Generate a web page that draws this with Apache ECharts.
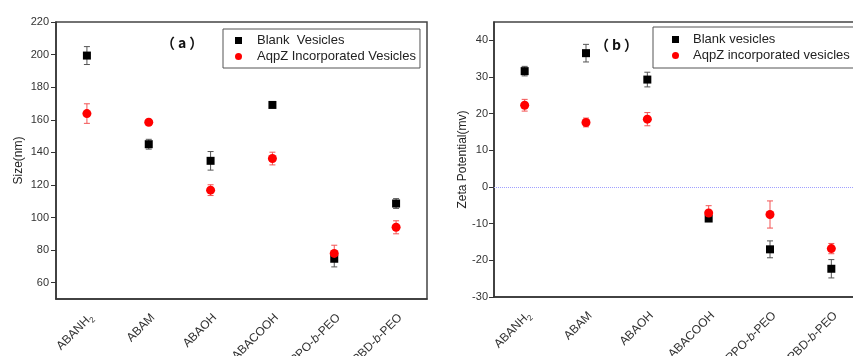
<!DOCTYPE html>
<html>
<head>
<meta charset="utf-8">
<script src="https://cdn.jsdelivr.net/npm/echarts@6/dist/echarts.min.js"></script>
<style>
    html, body { margin: 0; padding: 0; background: #fff; }
    #chart { width: 853px; height: 356px; }
</style>
</head>
<body>
<div id="chart"></div>
<script>
    // categories (same for both panels)
    var categories = ['ABANH2', 'ABAM', 'ABAOH', 'ABACOOH', 'PPO-b-PEO', 'PBD-b-PEO'];

    // (a) size in nm
    var sizeBlank = [199.4, 145.0, 134.8, 169.1, 74.7, 108.6];
    var sizeBlankErr = [5.5, 3.0, 5.7, 1.6, 5.0, 3.0];
    var sizeAqpz = [163.8, 158.5, 116.8, 136.2, 78.0, 94.0];
    var sizeAqpzErr = [6.0, 1.5, 3.3, 3.9, 5.0, 4.0];
    var sizeTicks = [60, 80, 100, 120, 140, 160, 180, 200, 220];

    // (b) zeta potential in mv
    var zetaBlank = [31.6, 36.5, 29.3, -8.6, -17.0, -22.3];
    var zetaBlankErr = [1.3, 2.4, 2.0, 0.7, 2.3, 2.5];
    var zetaAqpz = [22.3, 17.6, 18.5, -7.1, -7.5, -16.8];
    var zetaAqpzErr = [1.6, 1.2, 1.8, 2.0, 3.7, 1.4];
    var zetaTicks = [-30, -20, -10, 0, 10, 20, 30, 40];

    var font = 'Liberation Sans, Arial, sans-serif';

    function errData(vals, errs) {
        return vals.map(function (v, i) {
            return [i, v - errs[i], v + errs[i]];
        });
    }

    // draw vertical bar with small caps
    function errorBar(params, api) {
        var x = api.value(0);
        var lo = api.coord([x, api.value(1)]);
        var hi = api.coord([x, api.value(2)]);
        var w = 3;
        var style = {stroke: api.visual('color'), lineWidth: 1, fill: null};
        return {
            type: 'group',
            children: [
                {type: 'line', shape: {x1: lo[0], y1: lo[1], x2: hi[0], y2: hi[1]}, style: style},
                {type: 'line', shape: {x1: lo[0] - w, y1: lo[1], x2: lo[0] + w, y2: lo[1]}, style: style},
                {type: 'line', shape: {x1: hi[0] - w, y1: hi[1], x2: hi[0] + w, y2: hi[1]}, style: style}
            ]
        };
    }

    function catLabel(v) {
        if (v === 'ABANH2') return '{n|ABANH}{s|2}';
        if (v.indexOf('-b-') > 0) {
            var p = v.split('-b-');
            return '{n|' + p[0] + '-}{i|b}{n|-' + p[1] + '}';
        }
        return '{n|' + v + '}';
    }

    function xAxisOf(gridIndex) {
        return {
            type: 'category',
            gridIndex: gridIndex,
            data: categories,
            axisLine: {onZero: false, lineStyle: {color: '#333', width: 1.5}},
            axisTick: {inside: true, alignWithLabel: true, length: 6, lineStyle: {color: '#333'}},
            axisLabel: {
                rotate: 45,
                margin: 21,
                padding: [0, -6, 0, 0],
                interval: 0,
                formatter: catLabel,
                rich: {
                    n: {fontSize: 12, fontFamily: font, color: '#333'},
                    i: {fontSize: 12, fontFamily: font, color: '#333', fontStyle: 'italic'},
                    s: {fontSize: 8, fontFamily: font, color: '#333', verticalAlign: 'bottom', padding: [8, 0, 0, 0]}
                }
            },
            splitLine: {show: false}
        };
    }

    function panelTitle(letter, x, y) {
        return {
            text: '{p|（}{a|' + letter + '}{p|）}',
            left: x,
            top: y,
            textStyle: {
                rich: {
                    p: {fontSize: 14, fontWeight: 'bold', color: '#111', fontFamily: 'Noto Sans CJK SC'},
                    a: {fontSize: 14, fontWeight: 'bold', color: '#111', fontFamily: 'Noto Sans CJK SC', padding: [0, 3]}
                }
            }
        };
    }

    var zeroLine = {color: '#a0a0ff', type: [1, 1], width: 1, opacity: 1};

    var chart = echarts.init(document.getElementById('chart'));
    chart.setOption({
        backgroundColor: '#fff',
        animation: false,
        title: [panelTitle('a', 156, 31), panelTitle('b', 590, 33)],
        grid: [
            {left: 56, top: 22, width: 371, height: 277, outerBoundsMode: 'none', show: true, borderColor: '#444', borderWidth: 1.5},
            {left: 494, top: 22, width: 368, height: 275, outerBoundsMode: 'none', show: true, borderColor: '#444', borderWidth: 1.5}
        ],
        legend: [
            {
                data: ['Blank  Vesicles', 'AqpZ Incorporated Vesicles'],
                orient: 'vertical',
                left: 223,
                top: 29,
                padding: [4, 4, 4, 12],
                itemGap: 1,
                itemWidth: 7,
                itemHeight: 7,
                borderColor: '#555',
                borderWidth: 1,
                textStyle: {fontSize: 13, fontFamily: font, color: '#222', lineHeight: 15, padding: [0, 0, 0, 10]}
            },
            {
                data: ['Blank vesicles', 'AqpZ incorporated vesicles'],
                orient: 'vertical',
                left: 653,
                top: 27,
                padding: [5, 10, 5, 19],
                itemGap: 1,
                itemWidth: 7,
                itemHeight: 7,
                borderColor: '#555',
                borderWidth: 1,
                textStyle: {fontSize: 13, fontFamily: font, color: '#222', lineHeight: 15, padding: [0, 0, 0, 9]}
            }
        ],
        xAxis: [xAxisOf(0), xAxisOf(1)],
        yAxis: [
            {
                type: 'value',
                gridIndex: 0,
                min: 50,
                max: 220,
                name: 'Size(nm)',
                nameLocation: 'middle',
                nameGap: 31,
                nameTextStyle: {fontSize: 12, fontFamily: font, color: '#222'},
                axisLine: {show: true, lineStyle: {color: '#333', width: 1.5}},
                axisTick: {show: true, length: 5, customValues: sizeTicks, lineStyle: {color: '#333'}},
                axisLabel: {customValues: sizeTicks, fontSize: 11, fontFamily: font, color: '#333', margin: 7},
                splitLine: {show: false}
            },
            {
                type: 'value',
                gridIndex: 1,
                min: -30,
                max: 45,
                name: 'Zeta Potential(mv)',
                nameLocation: 'middle',
                nameGap: 23,
                nameTextStyle: {fontSize: 12, fontFamily: font, color: '#222'},
                axisLine: {show: true, onZero: false, lineStyle: {color: '#333', width: 1.5}},
                axisTick: {show: true, length: 5, customValues: zetaTicks, lineStyle: {color: '#333'}},
                axisLabel: {customValues: zetaTicks, fontSize: 11, fontFamily: font, color: '#333', margin: 6},
                splitLine: {show: false}
            }
        ],
        series: [
            // error bars first so markers sit on top
            {type: 'custom', xAxisIndex: 0, yAxisIndex: 0, renderItem: errorBar, itemStyle: {color: '#555'},
                encode: {x: 0, y: [1, 2]}, data: errData(sizeBlank, sizeBlankErr), z: 1},
            {type: 'custom', xAxisIndex: 0, yAxisIndex: 0, renderItem: errorBar, itemStyle: {color: '#f35454'},
                encode: {x: 0, y: [1, 2]}, data: errData(sizeAqpz, sizeAqpzErr), z: 1},
            {type: 'custom', xAxisIndex: 1, yAxisIndex: 1, renderItem: errorBar, itemStyle: {color: '#555'},
                encode: {x: 0, y: [1, 2]}, data: errData(zetaBlank, zetaBlankErr), z: 1},
            {type: 'custom', xAxisIndex: 1, yAxisIndex: 1, renderItem: errorBar, itemStyle: {color: '#f35454'},
                encode: {x: 0, y: [1, 2]}, data: errData(zetaAqpz, zetaAqpzErr), z: 1},
            {
                name: 'Blank  Vesicles', type: 'scatter', xAxisIndex: 0, yAxisIndex: 0,
                symbol: 'rect', symbolSize: 8, itemStyle: {color: '#000', opacity: 1}, data: sizeBlank, z: 3
            },
            {
                name: 'AqpZ Incorporated Vesicles', type: 'scatter', xAxisIndex: 0, yAxisIndex: 0,
                symbol: 'circle', symbolSize: 9, itemStyle: {color: '#ff0000', opacity: 1}, data: sizeAqpz, z: 3
            },
            {
                name: 'Blank vesicles', type: 'scatter', xAxisIndex: 1, yAxisIndex: 1,
                symbol: 'rect', symbolSize: 8, itemStyle: {color: '#000', opacity: 1}, data: zetaBlank, z: 3,
                markLine: {
                    silent: true,
                    symbol: 'none',
                    label: {show: false},
                    lineStyle: zeroLine,
                    emphasis: {disabled: true},
                    data: [{yAxis: 0, lineStyle: zeroLine}]
                }
            },
            {
                name: 'AqpZ incorporated vesicles', type: 'scatter', xAxisIndex: 1, yAxisIndex: 1,
                symbol: 'circle', symbolSize: 9, itemStyle: {color: '#ff0000', opacity: 1}, data: zetaAqpz, z: 3
            }
        ]
    });
</script>
</body>
</html>
